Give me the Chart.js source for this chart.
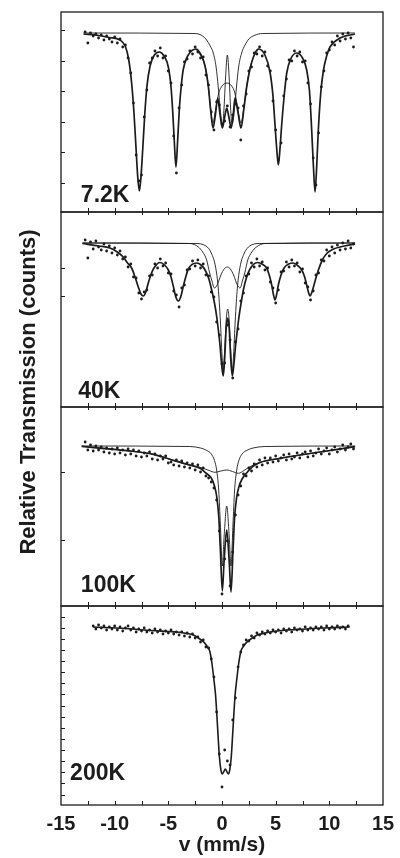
<!DOCTYPE html>
<html>
<head>
<meta charset="utf-8">
<script src="https://cdn.jsdelivr.net/npm/chart.js@4.4.1/dist/chart.umd.min.js"></script>
<style>
  html, body { margin: 0; padding: 0; background: #fff; }
</style>
</head>
<body>
<canvas id="chart" width="400" height="858"></canvas>
<script>
// Velocity channels (mm/s) shared by all four spectra
const velocity = [
  -12.75, -12.5, -12.25, -12, -11.75, -11.5, -11.25, -11, -10.75, -10.5,
  -10.25, -10, -9.75, -9.5, -9.25, -9, -8.75, -8.5, -8.25, -8,
  -7.75, -7.5, -7.25, -7, -6.75, -6.5, -6.25, -6, -5.75, -5.5,
  -5.25, -5, -4.75, -4.5, -4.25, -4, -3.75, -3.5, -3.25, -3,
  -2.75, -2.5, -2.25, -2, -1.75, -1.5, -1.25, -1, -0.75, -0.5,
  -0.25, 0, 0.25, 0.5, 0.75, 1, 1.25, 1.5, 1.75, 2,
  2.25, 2.5, 2.75, 3, 3.25, 3.5, 3.75, 4, 4.25, 4.5,
  4.75, 5, 5.25, 5.5, 5.75, 6, 6.25, 6.5, 6.75, 7,
  7.25, 7.5, 7.75, 8, 8.25, 8.5, 8.75, 9, 9.25, 9.5,
  9.75, 10, 10.25, 10.5, 10.75, 11, 11.25, 11.5, 11.75, 12,
  12.25
];

// Measured counts (relative, baseline ~1000)
const counts72 = [
  1001, 990, 1000, 997, 999, 995, 998, 993, 997, 994,
  991, 996, 990, 994, 986, 988, 975, 960, 930, 878,
  852, 858, 916, 943, 970, 975, 982, 977, 985, 975,
  977, 962, 950, 897, 860, 925, 948, 971, 974, 982,
  979, 986, 981, 975, 976, 958, 948, 921, 903, 931,
  928, 909, 912, 927, 906, 918, 929, 925, 893, 927,
  939, 962, 966, 980, 979, 986, 977, 981, 967, 962,
  932, 903, 873, 890, 937, 954, 973, 972, 982, 977,
  981, 971, 972, 950, 929, 875, 848, 900, 946, 962,
  980, 983, 991, 988, 997, 992, 999, 994, 1000, 995,
  986
];
const counts40 = [
  1003, 985, 1001, 994, 1002, 996, 993, 999, 992, 997,
  990, 995, 988, 992, 984, 986, 976, 979, 966, 965,
  950, 944, 951, 953, 967, 968, 979, 975, 984, 977,
  980, 970, 969, 952, 948, 936, 955, 958, 973, 974,
  982, 977, 983, 975, 979, 968, 967, 951, 946, 921,
  908, 879, 880, 918, 903, 865, 901, 914, 942, 950,
  967, 969, 980, 976, 984, 977, 981, 973, 975, 961,
  955, 940, 953, 971, 972, 981, 976, 983, 977, 980,
  971, 974, 960, 956, 943, 952, 968, 970, 983, 982,
  993, 987, 996, 990, 998, 993, 1000, 994, 1002, 995,
  999
];
const counts100 = [
  1004, 996, 1001, 995, 1000, 996, 999, 994, 998, 993,
  997, 992, 998, 993, 996, 991, 997, 992, 996, 990,
  995, 989, 993, 990, 994, 987, 992, 986, 990, 987,
  990, 983, 984, 981, 986, 980, 985, 979, 983, 978,
  982, 976, 981, 974, 978, 970, 968, 964, 958, 946,
  915, 852, 887, 905, 860, 894, 931, 951, 960, 972,
  970, 978, 975, 982, 979, 986, 981, 988, 983, 988,
  984, 990, 985, 988, 991, 986, 992, 987, 989, 993,
  988, 992, 994, 989, 995, 990, 993, 997, 992, 995,
  998, 992, 996, 999, 994, 997, 1001, 996, 999, 1002,
  997
];
const counts200 = [
  null, null, null, 1001, 998, 1002, 999, 1001, 997, 1000,
  998, 1001, 997, 1000, 996, 999, 1001, 997, 999, 995,
  998, 996, 999, 995, 997, 994, 998, 995, 997, 993,
  996, 994, 997, 993, 995, 992, 995, 991, 994, 990,
  993, 989, 990, 985, 987, 980, 979, 968, 950, 915,
  873, 840, 877, 866, 862, 907, 929, 960, 975, 982,
  987, 986, 991, 989, 994, 992, 995, 993, 996, 994,
  997, 995, 997, 994, 998, 996, 998, 995, 999, 997,
  998, 996, 1000, 997, 999, 997, 1000, 998, 1000, 997,
  1001, 998, 1000, 998, 1001, 999, 1000, 998, 1001, null,
  null
];

// 7.2 K fits
const fit72V = [-12.9, -11.5, -10.5, -9.5, -9, -8.7, -8.42, -8.2, -8, -7.85, -7.7, -7.55, -7.39, -7.2, -7, -6.7, -6.3, -5.84, -5.4, -5,
  -4.75, -4.6, -4.45, -4.29, -4.13, -3.98, -3.8, -3.6, -3.2, -2.42, -2, -1.58, -1.27, -1.05, -0.84, -0.62, -0.4, -0.2, 0.03, 0.25,
  0.44, 0.64, 0.86, 1.05, 1.21, 1.5, 1.77, 2.05, 2.3, 2.7, 3.39, 4, 4.47, 4.75, 4.94, 5.1, 5.25, 5.4, 5.56, 5.8,
  6.03, 6.4, 6.96, 7.5, 7.89, 8.15, 8.36, 8.52, 8.67, 8.82, 8.97, 9.2, 9.44, 9.75, 10.06, 11, 12.39];
const fit72Total = [999, 997.5, 995.5, 993, 986.5, 974, 950, 920, 883, 856, 842, 856, 883, 918, 946, 967, 978, 981, 977, 966,
  946, 923, 893, 866, 893, 923, 947, 964, 977, 984, 979, 967, 946, 922, 905, 918, 935, 920, 905, 916,
  925, 916, 905, 919, 935, 920, 905, 925, 946, 968, 984, 978, 961, 937, 908, 884, 868, 884, 908, 938,
  960, 974, 980, 975, 963, 942, 902, 866, 841, 866, 902, 940, 962, 977, 986, 995, 999];
const sext72V = [-2.42, -1.58, -1.27, -1.05, -0.84, -0.62, -0.3, 0, 0.46, 0.9, 1.2, 1.5, 1.77, 2.05, 2.3, 2.7, 3.39];
const sext72 = [984, 967, 947, 924, 910, 922, 940, 947, 950, 947, 940, 922, 910, 927, 947, 969, 984];
const doub72V = [-12.9, -2.5, -1.8, -1.43, -1.1, -0.81, -0.55, -0.35, -0.2, -0.07, 0.06, 0.19, 0.33, 0.5, 0.67, 0.8, 0.93, 1.06, 1.2, 1.35,
  1.55, 1.83, 2.15, 2.5, 3, 3.8, 12.39];
const doub72 = [1000, 999.5, 997, 993, 987, 980, 966, 946, 928, 914, 909, 925, 955, 978, 955, 925, 909, 914, 928, 946,
  966, 980, 988, 994, 997.5, 999.5, 1000];

// 40 K fits
const fit40V = [-13, -11.5, -10.44, -9.76, -9.2, -8.8, -8.42, -8.1, -7.8, -7.55, -7.33, -7.1, -6.87, -6.6, -6.34, -5.78, -5.35, -5, -4.75, -4.54,
  -4.3, -4.07, -3.85, -3.6, -3.38, -3.14, -2.36, -1.95, -1.58, -1.25, -0.96, -0.7, -0.49, -0.33, -0.19, -0.03, 0.12, 0.25, 0.39, 0.53,
  0.67, 0.81, 0.96, 1.1, 1.27, 1.42, 1.58, 1.78, 1.99, 2.27, 2.61, 3.29, 3.8, 4.16, 4.4, 4.63, 4.8, 4.94, 5.08, 5.25,
  5.5, 5.78, 6.65, 7.1, 7.43, 7.7, 7.89, 8.05, 8.2, 8.38, 8.57, 8.78, 8.98, 9.35, 9.76, 10.4, 11, 12.4];
const fit40Total = [999.5, 997, 995, 991, 986, 980, 975, 966, 956, 949, 947, 951, 960, 969, 975, 980.5, 978, 973, 966, 957,
  946, 942, 946, 957, 966, 974, 980, 978, 973, 965, 953, 940, 926, 912, 898, 878, 867, 885, 915, 925,
  915, 885, 867, 878, 898, 912, 926, 940, 953, 965, 974, 980.5, 978.5, 975, 968, 958, 948, 943, 948, 958,
  968, 975, 980, 977, 973, 966, 958, 951, 947, 951, 958, 966, 973, 983, 989.5, 994, 996, 999];
const broad40V = [-13, -3, -2.2, -1.8, -1.43, -1.15, -0.96, -0.71, -0.45, -0.1, 0.2, 0.49, 0.78, 1.08, 1.43, 1.68, 1.93, 2.12, 2.4, 2.78,
  3.2, 4, 12.4];
const broad40 = [1000, 999.5, 996, 991, 983, 970, 963, 955, 958, 968, 974, 976, 974, 968, 958, 955, 963, 970, 983, 991,
  996, 999.5, 1000];
const doub40V = [-13, -2.5, -1.5, -1, -0.6, -0.35, -0.15, 0, 0.12, 0.25, 0.4, 0.53, 0.66, 0.81, 0.96, 1.08, 1.23, 1.43, 1.68, 2.08,
  2.58, 3.5, 12.4];
const doub40 = [1000, 999.5, 997, 990, 976, 955, 922, 888, 873, 893, 924, 934, 924, 893, 873, 888, 922, 955, 976, 990,
  997, 999.5, 1000];

// 100 K fits
const fit100V = [-13.07, -11, -8.88, -6.4, -4.85, -3.29, -2.5, -2, -1.5, -1, -0.7, -0.5, -0.3, -0.15, 0.03, 0.2, 0.44, 0.67, 0.84, 1.02,
  1.17, 1.37, 1.57, 1.87, 2.37, 2.8, 3.54, 5.41, 7.27, 9.76, 12.4];
const fit100Total = [999.5, 997.3, 995.3, 991.7, 986.7, 981.7, 979.5, 977.5, 973, 968, 960, 950, 929, 896, 855, 886, 916, 885, 854, 894,
  928, 949, 959, 967, 974, 979, 983.5, 987.7, 991, 995, 999.3];
const broad100V = [-13.07, -11, -8.88, -6.4, -4.85, -3.29, -2.5, -1.74, -1.2, -0.65, -0.1, 0.44, 0.98, 1.52, 2.05, 2.61, 3.54, 5.41, 7.27, 9.76,
  12.4];
const broad100 = [1000, 997.8, 995.3, 991.7, 986.7, 981.7, 979.8, 977.7, 975.5, 973.7, 975, 976, 974.5, 972.7, 975.5, 979.3, 983.7, 987.7, 991, 995,
  999.3];
const doub100V = [-13.07, -3, -2, -1.5, -1, -0.7, -0.5, -0.3, -0.15, 0.03, 0.2, 0.44, 0.67, 0.84, 1.02, 1.17, 1.37, 1.57, 1.87, 2.37,
  2.9, 4, 12.4];
const doub100 = [1000, 999.5, 998, 996, 992, 985.5, 976, 955, 921, 880, 910, 940, 910, 880, 921, 955, 976, 985.5, 992, 996,
  998, 999.5, 1000];

// 200 K fit
const fit200V = [-12, -9, -7.3, -5, -4.2, -3.3, -2.67, -2.2, -1.74, -1.4, -1.12, -0.93, -0.75, -0.6, -0.49, -0.37, -0.25, -0.1, 0.03, 0.15,
  0.31, 0.47, 0.59, 0.72, 0.87, 0.99, 1.11, 1.22, 1.37, 1.55, 1.74, 2.02, 2.36, 2.82, 3.29, 3.9, 5, 7, 9, 11.9];
const fit200 = [1000, 998.5, 997, 995.5, 995, 993.5, 992, 989, 985.3, 981, 975, 963, 947, 932, 914, 892, 871, 857, 853, 855,
  858, 855, 853, 857, 871, 892, 914, 932, 947, 963, 975, 981, 985.3, 989, 992, 993.7, 995.8, 997.5, 998.7, 1000];

const panelLabels = ['7.2K', '40K', '100K', '200K'];
const panelIds = ['y7', 'y40', 'y100', 'y200'];
const yTicks7 = [1002, 972, 942, 911, 881, 850];
const yTicks40 = [975, 947];
const yTicks100 = [974, 906];
const yTicks200 = [1010, 999, 988, 977, 966, 955, 944, 933, 921, 910, 899, 888, 877, 866, 855, 844, 832];

const pts = (xs, ys) => xs.map((x, i) => ({ x, y: ys[i] }));

const FONT = '"Liberation Sans", Arial, Helvetica, sans-serif';
const INK = '#1c1c1c';

function dataSet(counts, axis) {
  return { data: pts(velocity, counts), yAxisID: axis, showLine: false, pointRadius: 1.4,
    pointBackgroundColor: INK, pointBorderWidth: 0, order: 2 };
}
function fitSet(xs, ys, axis, width) {
  return { data: pts(xs, ys), yAxisID: axis, showLine: true, pointRadius: 0, borderColor: INK,
    borderWidth: width, cubicInterpolationMode: 'monotone', fill: false, order: 1 };
}

function panelAxis(min, max, weight, tickVals) {
  return {
    type: 'linear', position: 'left', stack: 'panels', stackWeight: weight, min, max,
    ticks: { display: false },
    grid: { drawOnChartArea: false, tickLength: -4, color: INK, lineWidth: 1 },
    border: { display: false },
    afterBuildTicks: s => { s.ticks = tickVals.map(v => ({ value: v })); },
    afterFit: s => { s.width = 0; }
  };
}

// Panel frames, inner tick marks on panel edges, temperature labels, shared y title
const panelDecor = {
  id: 'panelDecor',
  afterDraw(chart) {
    const { ctx, chartArea, scales } = chart;
    const xs = scales.x;
    const labelPos = [{ v: -13.15, dy: 10 }, { v: -13.4, dy: 9 }, { v: -13.15, dy: 14 }, { v: -14.15, dy: 25 }];
    ctx.save();
    ctx.strokeStyle = INK;
    ctx.lineWidth = 1.3;
    panelIds.forEach((id, i) => {
      const s = scales[id];
      ctx.strokeRect(chartArea.left, s.top, chartArea.right - chartArea.left, s.bottom - s.top);
      ctx.lineWidth = 1;
      ctx.beginPath();
      xs.ticks.forEach(t => {
        const px = Math.round(xs.getPixelForValue(t.value)) + 0.5;
        if (t.value <= -15 || t.value >= 15) return;
        ctx.moveTo(px, s.bottom); ctx.lineTo(px, s.bottom - 4);
        if (i > 0) { ctx.moveTo(px, s.top); ctx.lineTo(px, s.top + 3); }
      });
      ctx.stroke();
      ctx.lineWidth = 1.3;
      ctx.fillStyle = INK;
      ctx.font = 'bold 23px ' + FONT;
      ctx.textAlign = 'left';
      ctx.textBaseline = 'alphabetic';
      ctx.fillText(panelLabels[i], xs.getPixelForValue(labelPos[i].v), s.bottom - labelPos[i].dy);
    });
    ctx.translate(29, 392);
    ctx.rotate(-Math.PI / 2);
    ctx.font = 'bold 22px ' + FONT;
    ctx.textAlign = 'center';
    ctx.textBaseline = 'middle';
    ctx.fillText('Relative Transmission (counts)', 0, 0);
    ctx.restore();
  }
};

new Chart(document.getElementById('chart'), {
  type: 'scatter',
  data: {
    datasets: [
      dataSet(counts72, 'y7'),
      fitSet(fit72V, fit72Total, 'y7', 1.7),
      fitSet(sext72V, sext72, 'y7', 0.9),
      fitSet(doub72V, doub72, 'y7', 0.9),
      dataSet(counts40, 'y40'),
      fitSet(fit40V, fit40Total, 'y40', 1.7),
      fitSet(broad40V, broad40, 'y40', 0.9),
      fitSet(doub40V, doub40, 'y40', 0.9),
      dataSet(counts100, 'y100'),
      fitSet(fit100V, fit100Total, 'y100', 1.7),
      fitSet(broad100V, broad100, 'y100', 0.9),
      fitSet(doub100V, doub100, 'y100', 0.9),
      dataSet(counts200, 'y200'),
      fitSet(fit200V, fit200, 'y200', 1.6)
    ]
  },
  options: {
    responsive: false,
    animation: false,
    layout: { padding: { left: 61, right: 17, top: 12, bottom: 0 } },
    plugins: { legend: { display: false }, tooltip: { enabled: false } },
    scales: {
      x: {
        type: 'linear', min: -15, max: 15,
        ticks: {
          stepSize: 2.5, autoSkip: false, maxRotation: 0, padding: -1, color: INK,
          font: { family: FONT, size: 20, weight: 'bold' },
          callback: v => (v % 5 === 0 ? String(v) : '')
        },
        grid: { display: false },
        border: { display: false },
        title: { display: true, text: 'v (mm/s)', color: INK, padding: { top: 0, bottom: 0 },
          font: { family: FONT, size: 21, weight: 'bold' } },
        afterFit: s => { s.height = 53; }
      },
      y200: panelAxis(822, 1021, 199, yTicks200),
      y100: panelAxis(840, 1039, 199, yTicks100),
      y40: panelAxis(836, 1031, 195, yTicks40),
      y7: panelAxis(821, 1021, 200, yTicks7)
    }
  },
  plugins: [panelDecor]
});
</script>
</body>
</html>
